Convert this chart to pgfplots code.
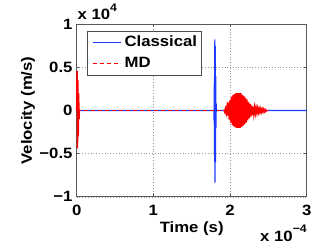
\documentclass[border=0pt]{standalone}
\usepackage{fontspec}
\setmainfont[FakeStretch=1.12]{Liberation Sans}
\usepackage{pgfplots}
\pgfplotsset{compat=1.18}
\definecolor{mblue}{RGB}{30,60,255}
\begin{document}
\fontsize{15}{17}\selectfont\bfseries
\begin{tikzpicture}
\path (-76.7bp,-47.3bp) rectangle (255.3bp,196.7bp);
\begin{axis}[
  scale only axis,
  width=230bp, height=172.4bp,
  xmin=0, xmax=0.0003, ymin=-10000, ymax=10000,
  scaled x ticks=false, scaled y ticks=false,
  xtick={0,0.0001,0.0002,0.0003}, xticklabels={0,1,2,3},
  ytick={-10000,-5000,0,5000,10000}, yticklabels={−1,−0.5,0,0.5,1},
  tick align=inside, major tick length=2.5bp,
  tick style={black!70, line width=0.5pt},
  axis line style={black!65, line width=0.7pt},
  grid=major,
  major grid style={black!40, line width=0.4pt, dash pattern=on 0.6pt off 2.2pt},
  yticklabel style={inner sep=0pt, xshift=-4bp, font=\fontsize{15}{17}\selectfont\bfseries},
  xticklabel style={inner sep=0pt, yshift=-8.6bp, font=\fontsize{15}{17}\selectfont\bfseries},
  xlabel={Time (s)}, ylabel={Velocity (m/s)},
  xlabel style={at={(axis description cs:0.5,-0.205)}, anchor=base, inner sep=0pt, font=\fontsize{15}{17}\selectfont\bfseries},
  ylabel style={at={(axis description cs:-0.2117,0.5)}, anchor=center, inner sep=0pt, font=\fontsize{15}{17}\selectfont\bfseries},
  clip=false,
  legend style={at={(axis description cs:0.046,0.963)}, anchor=north west,
    draw=black!70, line width=0.6pt, fill=white,
    inner xsep=2bp, inner ysep=1.5bp, row sep=1bp,
    nodes={inner sep=2bp, font=\fontsize{15}{17}\selectfont\bfseries}},
  legend cell align=left,
  legend image code/.code={\path[draw=none] (-3bp,-10bp) rectangle (30bp,10bp); \draw[#1] (0bp,0bp) -- (28bp,0bp);},
]
% Classical
\addplot[color=mblue, line width=1.2pt] coordinates {
(0,0) (0.0001790,0) (0.0001793,-1500) (0.0001796,4000) (0.0001799,-6000)
(0.0001802,8260) (0.0001805,-8380) (0.0001808,7500) (0.0001811,-6000)
(0.0001814,4000) (0.0001817,-2000) (0.0001820,800) (0.0001823,0) (0.0003,0)
};
\addlegendentry{Classical}
% MD zero line
\addplot[color=red, line width=1.2pt, dash pattern=on 4bp off 3bp] coordinates {
(0,0) (0.000192,0)
};
\addlegendentry{MD}
% MD initial spike
\addplot[color=red, line width=1.5pt, forget plot] coordinates {
(0,0) (0.0000005,4600) (0.0000010,-4400) (0.0000015,3500) (0.0000020,-3000)
(0.0000025,2000) (0.0000030,-1000) (0.0000035,0)
};
% MD burst
\addplot[color=red, line width=1.5pt, forget plot] coordinates {
(0.000192,100) (0.000193,-150) (0.000194,200) (0.000195,-300) (0.000196,400)
(0.000197,-600) (0.000198,900) (0.000199,-1050) (0.000200,1200) (0.000201,-1400)
(0.000202,1600) (0.000203,-1700) (0.000204,1800) (0.000205,-1850) (0.000206,1900)
(0.000207,-1950) (0.000208,2000) (0.000209,-2000) (0.000210,2000) (0.000211,-2000)
(0.000212,2000) (0.000213,-2000) (0.000214,2000) (0.000215,-1900) (0.000216,1800)
(0.000217,-1750) (0.000218,1700) (0.000219,-1600) (0.000220,1500) (0.000221,-1400)
(0.000222,1300) (0.000223,-1150) (0.000224,1000) (0.000225,-900) (0.000226,800)
(0.000227,-700) (0.000228,600) (0.000229,-520) (0.000230,450) (0.000231,-400)
(0.000232,350) (0.000233,-320) (0.000234,300) (0.000235,-270) (0.000236,250)
(0.000237,-220) (0.000238,200) (0.000239,-200) (0.000240,200) (0.000241,-170)
(0.000242,150) (0.000243,-150) (0.000244,150) (0.000245,-120) (0.000246,100)
(0.000247,-100) (0.000248,0) (0.000250,0)
};
\node[anchor=base west, inner sep=0pt] at (axis description cs:0.003,1.025)
  {x 10\raisebox{0.6em}{\fontsize{11}{11}\selectfont 4}};
\node[anchor=base west, inner sep=0pt] at (axis description cs:0.797,-0.261)
  {x 10\raisebox{0.6em}{\fontsize{11}{11}\selectfont −4}};
\end{axis}
\end{tikzpicture}
\end{document}
